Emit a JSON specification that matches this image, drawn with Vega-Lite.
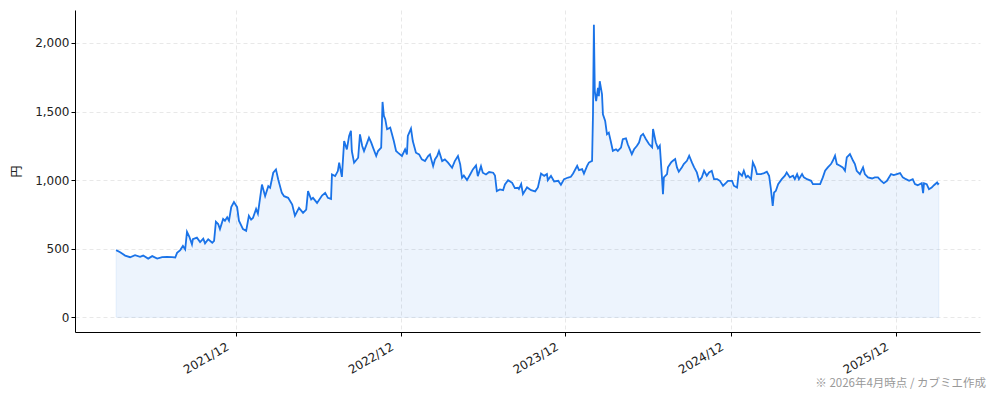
{
  "$schema": "https://vega.github.io/schema/vega-lite/v6.json",
  "description": "株価推移（円）",
  "width": 905,
  "height": 322,
  "autosize": {"type": "none"},
  "padding": {"left": 75, "top": 10, "right": 14, "bottom": 69},
  "background": "white",
  "title": {
    "text": "※ 2026年4月時点 / カブミエ作成",
    "orient": "bottom",
    "anchor": "end",
    "font": "Noto Sans CJK JP",
    "fontSize": 11.5,
    "fontWeight": "normal",
    "color": "#999999",
    "offset": 3,
    "dx": 6
  },
  "data": {
    "values": [
      {"date": "2021-03-11", "price": 490},
      {"date": "2021-03-20", "price": 475},
      {"date": "2021-03-31", "price": 450},
      {"date": "2021-04-11", "price": 438},
      {"date": "2021-04-22", "price": 453},
      {"date": "2021-05-03", "price": 441},
      {"date": "2021-05-10", "price": 450},
      {"date": "2021-05-21", "price": 428},
      {"date": "2021-05-30", "price": 446},
      {"date": "2021-06-10", "price": 428},
      {"date": "2021-06-21", "price": 438},
      {"date": "2021-07-02", "price": 441},
      {"date": "2021-07-13", "price": 438},
      {"date": "2021-07-20", "price": 436},
      {"date": "2021-07-24", "price": 470},
      {"date": "2021-07-31", "price": 490},
      {"date": "2021-08-06", "price": 520},
      {"date": "2021-08-11", "price": 495},
      {"date": "2021-08-15", "price": 623},
      {"date": "2021-08-20", "price": 589},
      {"date": "2021-08-26", "price": 532},
      {"date": "2021-08-28", "price": 569},
      {"date": "2021-09-06", "price": 581},
      {"date": "2021-09-13", "price": 549},
      {"date": "2021-09-20", "price": 574},
      {"date": "2021-09-24", "price": 539},
      {"date": "2021-10-01", "price": 569},
      {"date": "2021-10-10", "price": 544},
      {"date": "2021-10-14", "price": 557},
      {"date": "2021-10-18", "price": 697},
      {"date": "2021-10-23", "price": 680},
      {"date": "2021-10-27", "price": 643},
      {"date": "2021-11-03", "price": 717},
      {"date": "2021-11-07", "price": 704},
      {"date": "2021-11-12", "price": 729},
      {"date": "2021-11-16", "price": 704},
      {"date": "2021-11-21", "price": 803},
      {"date": "2021-11-27", "price": 840},
      {"date": "2021-12-04", "price": 803},
      {"date": "2021-12-08", "price": 704},
      {"date": "2021-12-17", "price": 643},
      {"date": "2021-12-24", "price": 630},
      {"date": "2021-12-30", "price": 740},
      {"date": "2022-01-04", "price": 712},
      {"date": "2022-01-08", "price": 724},
      {"date": "2022-01-15", "price": 790},
      {"date": "2022-01-19", "price": 756},
      {"date": "2022-01-28", "price": 968},
      {"date": "2022-02-04", "price": 883},
      {"date": "2022-02-11", "price": 956},
      {"date": "2022-02-15", "price": 944},
      {"date": "2022-02-22", "price": 1054},
      {"date": "2022-02-28", "price": 1078},
      {"date": "2022-03-05", "price": 1005},
      {"date": "2022-03-13", "price": 907},
      {"date": "2022-03-18", "price": 883},
      {"date": "2022-03-27", "price": 871},
      {"date": "2022-04-05", "price": 822},
      {"date": "2022-04-11", "price": 741},
      {"date": "2022-04-20", "price": 798},
      {"date": "2022-04-29", "price": 761},
      {"date": "2022-05-06", "price": 785},
      {"date": "2022-05-10", "price": 920},
      {"date": "2022-05-17", "price": 859},
      {"date": "2022-05-21", "price": 871},
      {"date": "2022-05-30", "price": 834},
      {"date": "2022-06-10", "price": 888},
      {"date": "2022-06-17", "price": 907},
      {"date": "2022-06-23", "price": 871},
      {"date": "2022-06-30", "price": 863},
      {"date": "2022-07-02", "price": 1041},
      {"date": "2022-07-09", "price": 1029},
      {"date": "2022-07-15", "price": 1066},
      {"date": "2022-07-18", "price": 1127},
      {"date": "2022-07-24", "price": 1024},
      {"date": "2022-07-29", "price": 1285},
      {"date": "2022-08-04", "price": 1224},
      {"date": "2022-08-09", "price": 1322},
      {"date": "2022-08-13", "price": 1359},
      {"date": "2022-08-15", "price": 1212},
      {"date": "2022-08-20", "price": 1127},
      {"date": "2022-08-29", "price": 1163},
      {"date": "2022-09-02", "price": 1334},
      {"date": "2022-09-07", "price": 1249},
      {"date": "2022-09-11", "price": 1212},
      {"date": "2022-09-18", "price": 1273},
      {"date": "2022-09-22", "price": 1310},
      {"date": "2022-09-27", "price": 1273},
      {"date": "2022-10-01", "price": 1237},
      {"date": "2022-10-08", "price": 1176},
      {"date": "2022-10-12", "price": 1212},
      {"date": "2022-10-19", "price": 1237},
      {"date": "2022-10-22", "price": 1570},
      {"date": "2022-10-25", "price": 1468},
      {"date": "2022-10-28", "price": 1444},
      {"date": "2022-11-01", "price": 1371},
      {"date": "2022-11-08", "price": 1383},
      {"date": "2022-11-12", "price": 1334},
      {"date": "2022-11-16", "price": 1285},
      {"date": "2022-11-21", "price": 1212},
      {"date": "2022-11-25", "price": 1200},
      {"date": "2022-12-04", "price": 1176},
      {"date": "2022-12-11", "price": 1224},
      {"date": "2022-12-15", "price": 1188},
      {"date": "2022-12-17", "price": 1322},
      {"date": "2022-12-24", "price": 1376},
      {"date": "2022-12-28", "price": 1285},
      {"date": "2023-01-04", "price": 1200},
      {"date": "2023-01-11", "price": 1188},
      {"date": "2023-01-17", "price": 1151},
      {"date": "2023-01-24", "price": 1139},
      {"date": "2023-01-31", "price": 1176},
      {"date": "2023-02-04", "price": 1188},
      {"date": "2023-02-11", "price": 1102},
      {"date": "2023-02-15", "price": 1151},
      {"date": "2023-02-20", "price": 1176},
      {"date": "2023-02-24", "price": 1212},
      {"date": "2023-03-03", "price": 1139},
      {"date": "2023-03-09", "price": 1151},
      {"date": "2023-03-16", "price": 1127},
      {"date": "2023-03-25", "price": 1090},
      {"date": "2023-03-31", "price": 1139},
      {"date": "2023-04-07", "price": 1176},
      {"date": "2023-04-12", "price": 1115},
      {"date": "2023-04-16", "price": 1017},
      {"date": "2023-04-20", "price": 1034},
      {"date": "2023-04-27", "price": 1000},
      {"date": "2023-05-04", "price": 1041},
      {"date": "2023-05-10", "price": 1078},
      {"date": "2023-05-17", "price": 1107},
      {"date": "2023-05-21", "price": 1029},
      {"date": "2023-05-28", "price": 1102},
      {"date": "2023-06-01", "price": 1054},
      {"date": "2023-06-08", "price": 1041},
      {"date": "2023-06-15", "price": 1059},
      {"date": "2023-06-24", "price": 1054},
      {"date": "2023-06-28", "price": 1034},
      {"date": "2023-07-02", "price": 920},
      {"date": "2023-07-09", "price": 932},
      {"date": "2023-07-16", "price": 927},
      {"date": "2023-07-20", "price": 968},
      {"date": "2023-07-27", "price": 1000},
      {"date": "2023-08-05", "price": 980},
      {"date": "2023-08-11", "price": 942},
      {"date": "2023-08-18", "price": 944},
      {"date": "2023-08-20", "price": 935},
      {"date": "2023-08-25", "price": 971},
      {"date": "2023-08-29", "price": 898},
      {"date": "2023-09-07", "price": 947},
      {"date": "2023-09-16", "price": 927},
      {"date": "2023-09-25", "price": 918},
      {"date": "2023-10-01", "price": 947},
      {"date": "2023-10-08", "price": 1048},
      {"date": "2023-10-15", "price": 1031},
      {"date": "2023-10-21", "price": 1044},
      {"date": "2023-10-23", "price": 1000},
      {"date": "2023-10-30", "price": 1031},
      {"date": "2023-11-06", "price": 990},
      {"date": "2023-11-15", "price": 995},
      {"date": "2023-11-21", "price": 966},
      {"date": "2023-11-28", "price": 1007},
      {"date": "2023-12-07", "price": 1019},
      {"date": "2023-12-13", "price": 1024},
      {"date": "2023-12-18", "price": 1048},
      {"date": "2023-12-27", "price": 1104},
      {"date": "2023-12-31", "price": 1073},
      {"date": "2024-01-07", "price": 1080},
      {"date": "2024-01-11", "price": 1048},
      {"date": "2024-01-18", "price": 1104},
      {"date": "2024-01-22", "price": 1128},
      {"date": "2024-01-29", "price": 1140},
      {"date": "2024-01-31", "price": 1479},
      {"date": "2024-02-02", "price": 2133},
      {"date": "2024-02-04", "price": 1649},
      {"date": "2024-02-07", "price": 1576},
      {"date": "2024-02-11", "price": 1673},
      {"date": "2024-02-13", "price": 1612},
      {"date": "2024-02-15", "price": 1721},
      {"date": "2024-02-20", "price": 1625},
      {"date": "2024-02-22", "price": 1479},
      {"date": "2024-02-27", "price": 1431},
      {"date": "2024-03-02", "price": 1334},
      {"date": "2024-03-06", "price": 1346},
      {"date": "2024-03-11", "price": 1274},
      {"date": "2024-03-15", "price": 1213},
      {"date": "2024-03-22", "price": 1225},
      {"date": "2024-03-26", "price": 1213},
      {"date": "2024-04-02", "price": 1237},
      {"date": "2024-04-06", "price": 1298},
      {"date": "2024-04-13", "price": 1305},
      {"date": "2024-04-17", "price": 1261},
      {"date": "2024-04-26", "price": 1189},
      {"date": "2024-05-01", "price": 1225},
      {"date": "2024-05-07", "price": 1249},
      {"date": "2024-05-12", "price": 1274},
      {"date": "2024-05-16", "price": 1322},
      {"date": "2024-05-21", "price": 1337},
      {"date": "2024-05-27", "price": 1300},
      {"date": "2024-06-03", "price": 1263},
      {"date": "2024-06-10", "price": 1239},
      {"date": "2024-06-12", "price": 1373},
      {"date": "2024-06-18", "price": 1276},
      {"date": "2024-06-23", "price": 1232},
      {"date": "2024-06-27", "price": 1251},
      {"date": "2024-07-02", "price": 1007},
      {"date": "2024-07-04", "price": 898},
      {"date": "2024-07-06", "price": 1020},
      {"date": "2024-07-13", "price": 1044},
      {"date": "2024-07-15", "price": 1093},
      {"date": "2024-07-22", "price": 1129},
      {"date": "2024-07-26", "price": 1141},
      {"date": "2024-07-31", "price": 1154},
      {"date": "2024-08-04", "price": 1093},
      {"date": "2024-08-08", "price": 1061},
      {"date": "2024-08-15", "price": 1093},
      {"date": "2024-08-19", "price": 1117},
      {"date": "2024-08-26", "price": 1141},
      {"date": "2024-08-31", "price": 1178},
      {"date": "2024-09-06", "price": 1129},
      {"date": "2024-09-11", "price": 1093},
      {"date": "2024-09-17", "price": 1056},
      {"date": "2024-09-22", "price": 995},
      {"date": "2024-09-28", "price": 1020},
      {"date": "2024-10-03", "price": 1068},
      {"date": "2024-10-09", "price": 1032},
      {"date": "2024-10-14", "price": 1056},
      {"date": "2024-10-20", "price": 1068},
      {"date": "2024-10-25", "price": 1007},
      {"date": "2024-11-01", "price": 1007},
      {"date": "2024-11-07", "price": 995},
      {"date": "2024-11-14", "price": 959},
      {"date": "2024-11-20", "price": 978},
      {"date": "2024-11-25", "price": 995},
      {"date": "2024-12-04", "price": 995},
      {"date": "2024-12-08", "price": 959},
      {"date": "2024-12-15", "price": 946},
      {"date": "2024-12-19", "price": 1056},
      {"date": "2024-12-26", "price": 1032},
      {"date": "2024-12-30", "price": 1068},
      {"date": "2025-01-04", "price": 1020},
      {"date": "2025-01-08", "price": 1032},
      {"date": "2025-01-15", "price": 1007},
      {"date": "2025-01-19", "price": 1129},
      {"date": "2025-01-24", "price": 1093},
      {"date": "2025-01-28", "price": 1044},
      {"date": "2025-02-06", "price": 1044},
      {"date": "2025-02-13", "price": 1051},
      {"date": "2025-02-19", "price": 1061},
      {"date": "2025-02-24", "price": 1032},
      {"date": "2025-02-28", "price": 934},
      {"date": "2025-03-04", "price": 812},
      {"date": "2025-03-07", "price": 910},
      {"date": "2025-03-11", "price": 922},
      {"date": "2025-03-16", "price": 971},
      {"date": "2025-03-24", "price": 1007},
      {"date": "2025-03-31", "price": 1032},
      {"date": "2025-04-04", "price": 1056},
      {"date": "2025-04-11", "price": 1020},
      {"date": "2025-04-18", "price": 1032},
      {"date": "2025-04-22", "price": 1007},
      {"date": "2025-04-27", "price": 1044},
      {"date": "2025-05-01", "price": 1007},
      {"date": "2025-05-08", "price": 1044},
      {"date": "2025-05-12", "price": 1020},
      {"date": "2025-05-19", "price": 1007},
      {"date": "2025-05-28", "price": 995},
      {"date": "2025-06-01", "price": 971},
      {"date": "2025-06-10", "price": 971},
      {"date": "2025-06-17", "price": 971},
      {"date": "2025-06-23", "price": 1020},
      {"date": "2025-06-28", "price": 1068},
      {"date": "2025-07-04", "price": 1093},
      {"date": "2025-07-11", "price": 1117},
      {"date": "2025-07-15", "price": 1141},
      {"date": "2025-07-20", "price": 1178},
      {"date": "2025-07-24", "price": 1117},
      {"date": "2025-07-31", "price": 1105},
      {"date": "2025-08-06", "price": 1093},
      {"date": "2025-08-11", "price": 1068},
      {"date": "2025-08-15", "price": 1166},
      {"date": "2025-08-22", "price": 1190},
      {"date": "2025-08-29", "price": 1141},
      {"date": "2025-09-02", "price": 1117},
      {"date": "2025-09-06", "price": 1068},
      {"date": "2025-09-13", "price": 1044},
      {"date": "2025-09-20", "price": 1093},
      {"date": "2025-09-24", "price": 1044},
      {"date": "2025-10-01", "price": 1020},
      {"date": "2025-10-10", "price": 1012},
      {"date": "2025-10-16", "price": 1020},
      {"date": "2025-10-23", "price": 1020},
      {"date": "2025-10-30", "price": 995},
      {"date": "2025-11-05", "price": 978},
      {"date": "2025-11-12", "price": 995},
      {"date": "2025-11-21", "price": 1044},
      {"date": "2025-11-27", "price": 1037},
      {"date": "2025-12-04", "price": 1044},
      {"date": "2025-12-11", "price": 1051},
      {"date": "2025-12-17", "price": 1020},
      {"date": "2025-12-24", "price": 1007},
      {"date": "2025-12-31", "price": 995},
      {"date": "2026-01-08", "price": 1007},
      {"date": "2026-01-13", "price": 971},
      {"date": "2026-01-19", "price": 963},
      {"date": "2026-01-28", "price": 978},
      {"date": "2026-01-31", "price": 905},
      {"date": "2026-02-02", "price": 978},
      {"date": "2026-02-08", "price": 971},
      {"date": "2026-02-13", "price": 934},
      {"date": "2026-02-19", "price": 946},
      {"date": "2026-02-24", "price": 963},
      {"date": "2026-03-03", "price": 983},
      {"date": "2026-03-05", "price": 971},
      {"date": "2026-03-07", "price": 978}
    ]
  },
  "encoding": {
    "x": {
      "field": "date",
      "type": "temporal",
      "title": null,
      "scale": {
        "type": "utc",
        "domain": [
          {"year": 2020, "month": 12, "date": 10, "utc": true},
          {"year": 2026, "month": 6, "date": 6, "utc": true}
        ]
      },
      "axis": {
        "values": [
          {"year": 2021, "month": 12, "date": 1, "utc": true},
          {"year": 2022, "month": 12, "date": 1, "utc": true},
          {"year": 2023, "month": 12, "date": 1, "utc": true},
          {"year": 2024, "month": 12, "date": 1, "utc": true},
          {"year": 2025, "month": 12, "date": 1, "utc": true}
        ],
        "labelExpr": "utcFormat(datum.value, '%Y/%m')",
        "labelAngle": -30,
        "labelAlign": "right",
        "labelBaseline": "top",
        "labelPadding": 5,
        "labelOffset": -11
      }
    },
    "y": {
      "field": "price",
      "type": "quantitative",
      "title": "円",
      "scale": {"domain": [-107, 2240], "nice": false, "zero": false},
      "axis": {
        "values": [0, 500, 1000, 1500, 2000],
        "format": ",.0f",
        "titleFont": "Noto Sans CJK JP",
        "titleFontSize": 12,
        "titleFontWeight": "normal",
        "titlePadding": 11
      }
    }
  },
  "layer": [
    {
      "mark": {
        "type": "area",
        "color": "#1a73e8",
        "fillOpacity": 0.08,
        "stroke": "#1a73e8",
        "strokeOpacity": 0.08,
        "strokeWidth": 1
      },
      "encoding": {"y2": {"datum": 0}}
    },
    {
      "mark": {"type": "line", "color": "#1a73e8", "strokeWidth": 1.8},
      "encoding": {}
    }
  ],
  "config": {
    "view": {"stroke": null},
    "axis": {
      "labelFont": "DejaVu Sans",
      "labelFontSize": 12,
      "labelColor": "#222222",
      "domainColor": "#000000",
      "domainWidth": 1,
      "tickColor": "#000000",
      "tickSize": 4,
      "titleColor": "#222222",
      "grid": true,
      "gridColor": "#e2e2e2",
      "gridDash": [4, 3],
      "gridWidth": 0.8
    }
  }
}
